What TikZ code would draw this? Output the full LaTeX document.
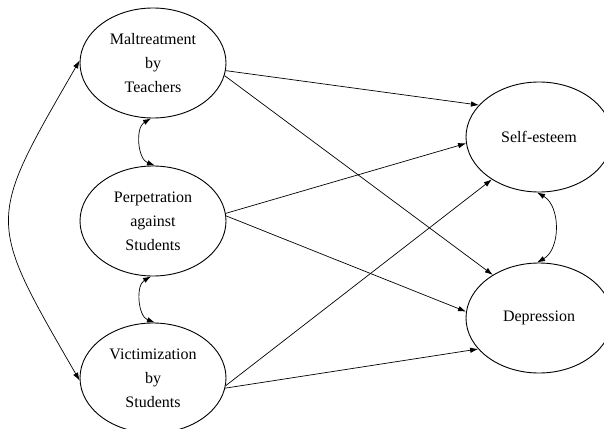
\documentclass[tikz,border=0pt]{standalone}
\usepackage{fontspec}
\setmainfont{Liberation Serif}
\usetikzlibrary{shapes.geometric,arrows.meta}
\begin{document}
\begin{tikzpicture}[x=1pt,y=-1pt,
  ell/.style={draw,ellipse,line width=0.9pt,minimum width=146pt,minimum height=110pt,inner sep=0pt,align=center,font=\fontsize{16}{24}\selectfont},
  arr/.style={line width=0.7pt,-{Latex[length=8pt,width=5.5pt]}},
  darr/.style={line width=0.7pt,{Latex[length=8pt,width=5.5pt]}-{Latex[length=8pt,width=5.5pt]}}]
\useasboundingbox (0,0) rectangle (604,428);
\node[ell] (malt) at (153,63) {Maltreatment\\by\\Teachers};
\node[ell] (perp) at (153,221) {Perpetration\\against\\Students};
\node[ell] (vict) at (153,378) {Victimization\\by\\Students};
\node[ell] (self) at (539,137) {Self-esteem};
\node[ell] (depr) at (539,318) {Depression};
\draw[arr] (malt.354) -- (self.152);
\draw[arr] (malt.350) -- (depr.137);
\draw[arr] (perp.6) -- (self.185);
\draw[arr] (perp.4) -- (depr.175);
\draw[arr] (vict.354) -- (self.222);
\draw[arr] (vict.352) -- (depr.207);
\draw[darr] (malt.268) to[bend right=65] (perp.88);
\draw[darr] (perp.268) to[bend right=65] (vict.88);
\draw[darr] (malt.178) to[out=240,in=120,looseness=1.5] (vict.182);
\draw[darr] (self.268) to[bend left=60] (depr.92);
\end{tikzpicture}
\end{document}
